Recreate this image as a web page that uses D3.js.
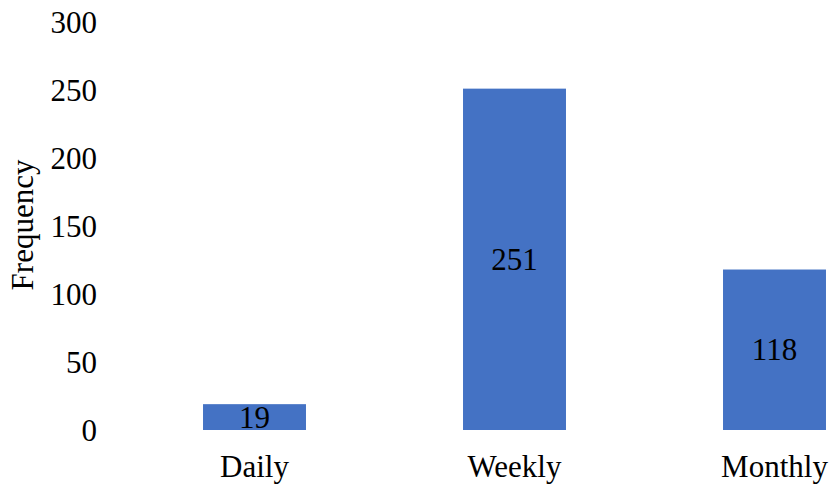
<!DOCTYPE html>
<html>
<head>
<meta charset="utf-8">
<script src="https://cdn.jsdelivr.net/npm/d3@7"></script>
<style>
  body { margin: 0; background: #fff; }
</style>
</head>
<body>
<div id="chart"></div>
<script>
const categories = ['Daily', 'Weekly', 'Monthly']
const values = [19, 251, 118]
const yTicks = [0, 50, 100, 150, 200, 250, 300]

const width = 832
const height = 488
const fontSize = 31
const font = "'Liberation Serif', 'Times New Roman', serif"

const svg = d3.select('#chart').append('svg')
    .attr('width', width)
    .attr('height', height)

// band scale runs past the right edge, the last bar sits at the border
const x = d3.scaleBand()
    .domain(categories)
    .range([124.5, 904.5])
    .paddingInner(0.604)
    .paddingOuter(0.302)

const y = d3.scaleLinear()
    .domain([0, 300])
    .range([430, 22])

const yAxis = svg.append('g')
    .attr('transform', 'translate(97,0)')
    .call(d3.axisLeft(y).tickValues(yTicks).tickSize(0).tickPadding(0))
yAxis.select('.domain').remove()
yAxis.selectAll('text')
    .style('font-family', font)
    .style('font-size', fontSize + 'px')
    .attr('fill', '#000')
    .attr('dy', '0.34em')

const xAxis = svg.append('g')
    .attr('transform', 'translate(0,430)')
    .call(d3.axisBottom(x).tickSize(0).tickPadding(0))
xAxis.select('.domain').remove()
xAxis.selectAll('text')
    .style('font-family', font)
    .style('font-size', fontSize + 'px')
    .attr('fill', '#000')
    .attr('dy', null)
    .attr('y', 47)

const bars = svg.append('g').selectAll('g')
    .data(categories.map((c, i) => ({ cat: c, value: values[i] })))
    .enter()
    .append('g')

bars.append('rect')
    .attr('x', d => x(d.cat))
    .attr('y', d => y(d.value))
    .attr('width', x.bandwidth())
    .attr('height', d => y(0) - y(d.value))
    .attr('fill', '#4472C4')

bars.append('text')
    .attr('x', d => x(d.cat) + x.bandwidth() / 2)
    .attr('y', d => (y(d.value) + y(0)) / 2)
    .attr('dy', '0.34em')
    .attr('text-anchor', 'middle')
    .style('font-family', font)
    .style('font-size', fontSize + 'px')
    .text(d => d.value)

svg.append('text')
    .attr('transform', 'translate(33,225) rotate(-90)')
    .attr('text-anchor', 'middle')
    .style('font-family', font)
    .style('font-size', fontSize + 'px')
    .text('Frequency')
</script>
</body>
</html>
